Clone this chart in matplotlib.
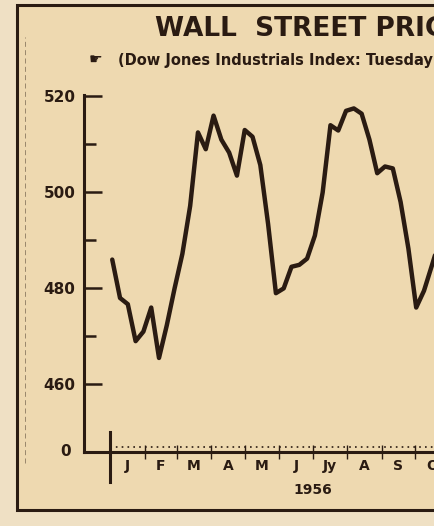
import matplotlib
matplotlib.use("Agg")
import matplotlib.pyplot as plt
from matplotlib.patches import Rectangle
import numpy as np

# Dow Jones Industrials, Tuesday closings 1956
first_day = 2          # Tuesday, Jan 3 1956 (day of year, Jan 1 = 0)
dow_close = [486, 478, 476.7, 469, 471, 476, 465.5, 472.3, 480, 487.2,
             497.2, 512.5, 509, 516, 511, 508.3, 503.5, 513, 511.6, 505.7,
             493.4, 479, 480, 484.5, 484.9, 486.2, 491, 500, 514, 512.9,
             517, 517.5, 516.4, 511, 504, 505.4, 505, 498, 488.3, 476,
             479.5, 484.7, 490]
month_labels = ["J", "F", "M", "A", "M", "J", "Jy", "A", "S", "O", "N"]
month_starts = [0, 31, 60, 91, 121, 152, 182, 213, 244, 274, 305, 335]
y_ticks = [460, 480, 500, 520]
year = "1956"

ink = "#2a1b12"
paper = "#eed9b0"
days = first_day + 7 * np.arange(len(dow_close))

fig = plt.figure(figsize=(4.35, 5.26), dpi=100)
fig.patch.set_facecolor("#efe0c4")

# clipping frame
fig.patches.append(Rectangle((0.039, 0.031), 1.2, 0.96, transform=fig.transFigure,
                             facecolor=paper, edgecolor=ink, linewidth=2.2, zorder=-2))
fig.lines.append(plt.Line2D([0.057, 0.057], [0.12, 0.93], transform=fig.transFigure,
                            color=ink, lw=0.6, ls=(0, (6, 4)), alpha=0.5, zorder=-1))

fig.text(0.357, 0.931, "WALL  STREET PRICES", fontsize=19, fontweight="bold",
         color=ink, ha="left", va="baseline", family="DejaVu Sans")
fig.text(0.272, 0.876, "(Dow Jones Industrials Index: Tuesday closings)", fontsize=10.5,
         fontweight="bold", color=ink, ha="left", va="baseline",
         family=["Liberation Sans Narrow", "DejaVu Sans"])
fig.text(0.205, 0.879, "\u261b", fontsize=11, color=ink, ha="left", va="baseline")

ax = fig.add_axes([0.193, 0.1407, 0.86, 0.6787])
ax.set_facecolor("none")
ax.plot(days, dow_close, color=ink, lw=3.2, solid_joinstyle="round", solid_capstyle="round")

for s in ["top", "right"]:
    ax.spines[s].set_visible(False)
for s in ["left", "bottom"]:
    ax.spines[s].set_linewidth(2.2)
    ax.spines[s].set_color(ink)

ax.set_yticks(y_ticks)
ax.set_yticklabels([str(v) for v in y_ticks])
ax.set_yticks([470, 490, 510], minor=True)
ax.tick_params(axis="y", which="major", direction="in", length=13, width=1.8,
               color=ink, labelcolor=ink, labelsize=11, pad=6)
ax.tick_params(axis="y", which="minor", direction="in", length=8.5, width=1.8, color=ink)
for lab in ax.get_yticklabels():
    lab.set_fontweight("bold")
ax.text(-0.035, 0.0, "0", transform=ax.transAxes, fontsize=11, fontweight="bold",
        color=ink, ha="right", va="center")

# month separators and labels
ax.set_xticks(month_starts[1:])
ax.set_xticklabels([])
ax.tick_params(axis="x", which="major", direction="inout", length=10, width=1,
               color=ink)
centers = [(a + b) / 2 for a, b in zip(month_starts[:-1], month_starts[1:])]
for c, lab in zip(centers, month_labels):
    ax.text(c, -0.04, lab, transform=ax.get_xaxis_transform(), fontsize=10,
            fontweight="bold", color=ink, ha="center", va="center")
ax.text(182, -0.107, year, transform=ax.get_xaxis_transform(), fontsize=10,
        fontweight="bold", color=ink, ha="center", va="center")

# dotted guide just above the base line, and the start-of-year bar
ax.plot([0, 320], [446.9, 446.9], color=ink, lw=1.2, ls=(0, (1, 2.5)), clip_on=False)
ax.plot([0, 0], [-0.085, 0.055], transform=ax.get_xaxis_transform(), color=ink,
        lw=2.2, clip_on=False)

ax.set_xlim(-23.4, 312.6)
ax.set_ylim(445.9, 520.3)

fig.savefig("out.png", dpi=100, facecolor=fig.get_facecolor())
